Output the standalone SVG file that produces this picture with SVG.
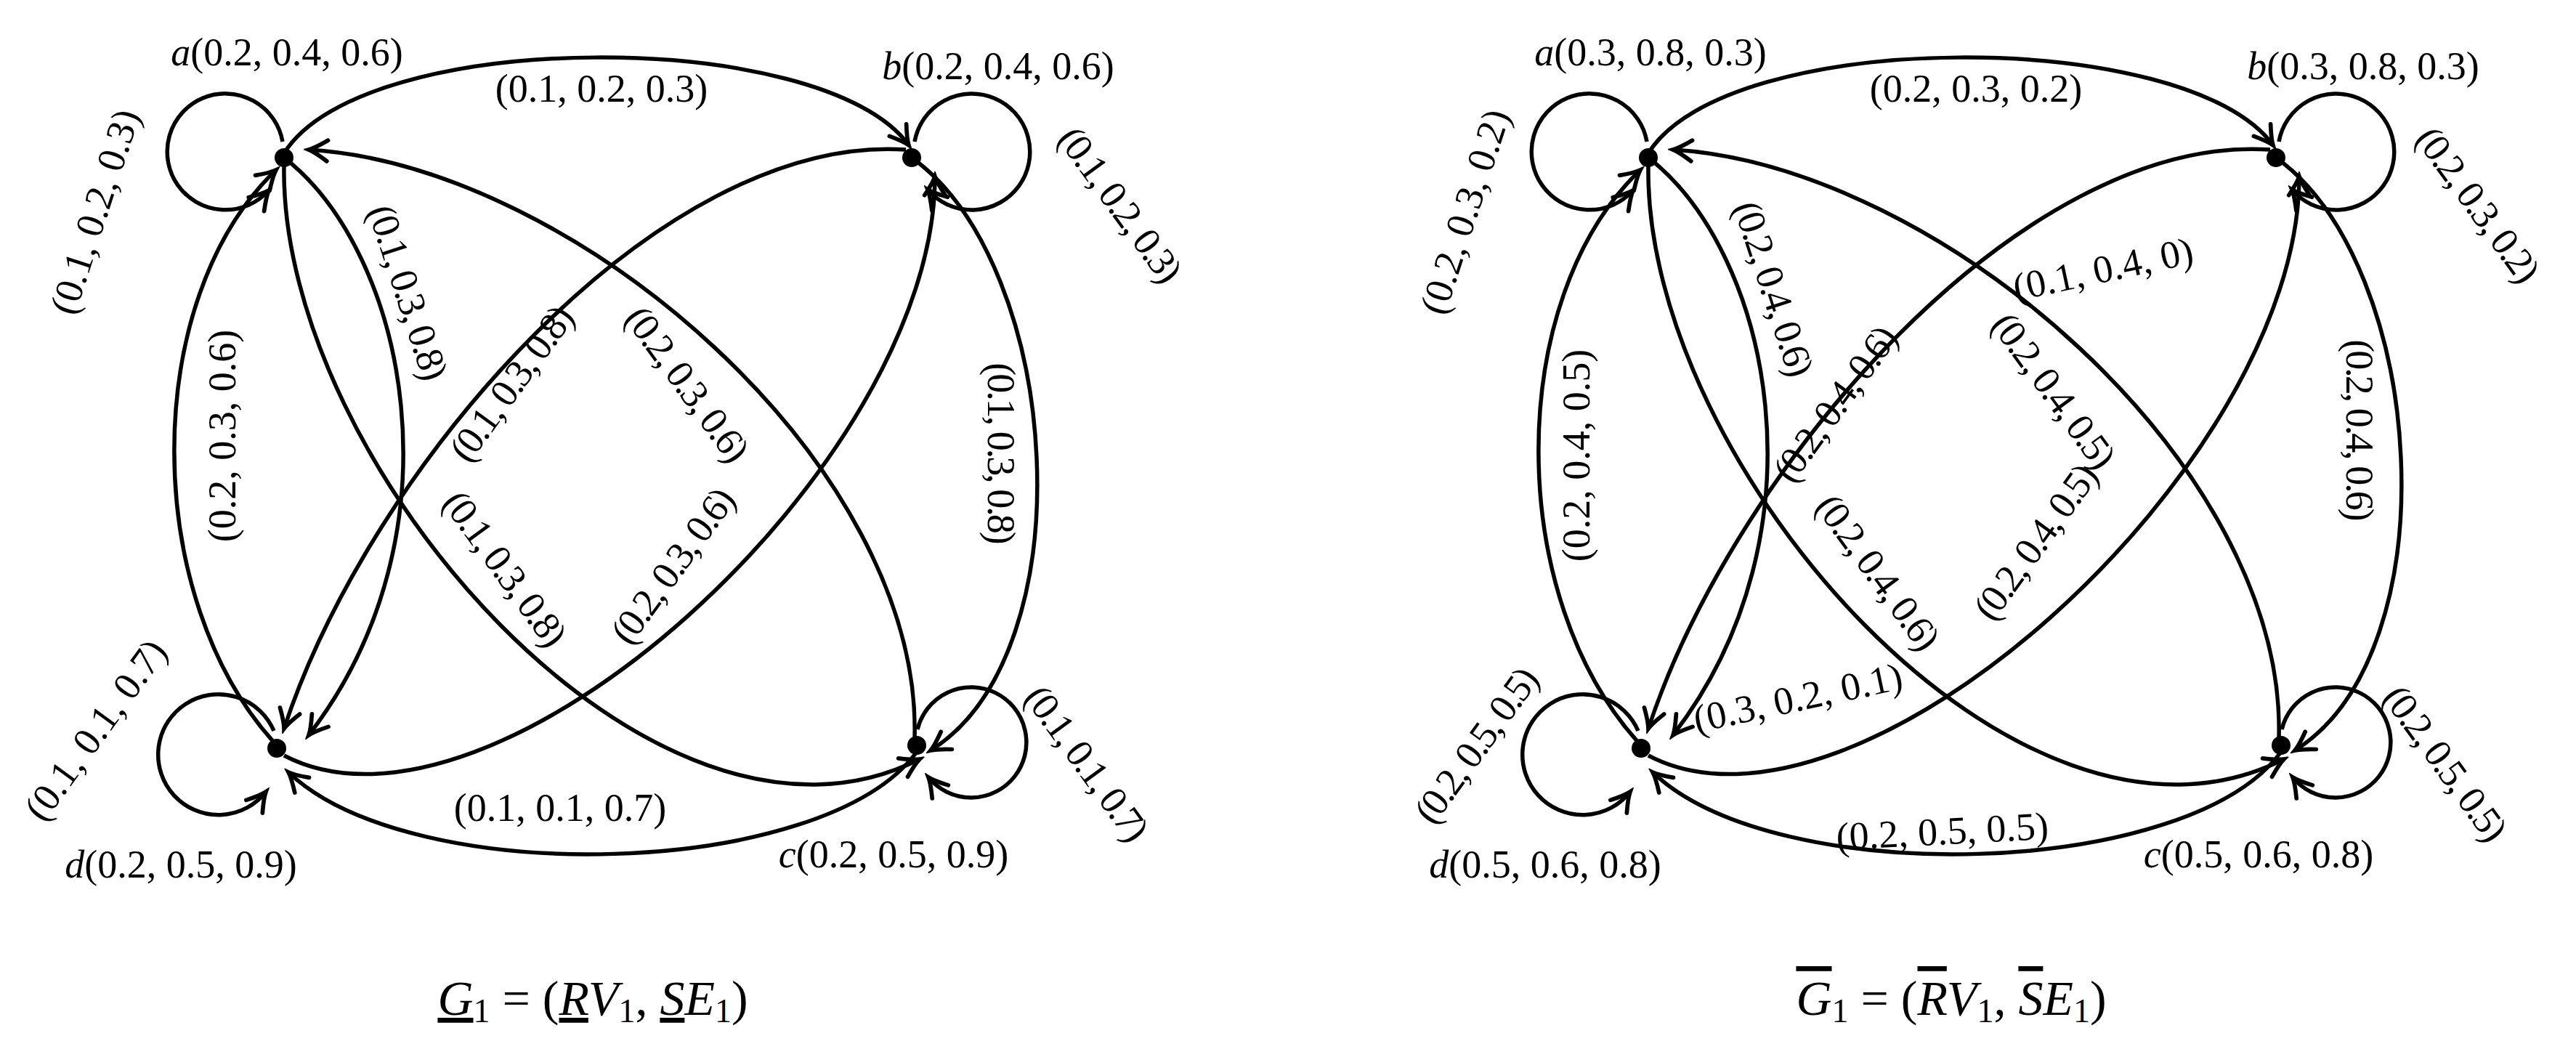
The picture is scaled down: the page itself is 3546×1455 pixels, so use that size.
<svg xmlns="http://www.w3.org/2000/svg" width="3546" height="1455" viewBox="0 0 3546 1455">
<style>
.e{fill:none;stroke:#000;stroke-width:5.5;marker-end:url(#ah)}
.l{font-family:"Liberation Serif",serif;font-size:54px;text-anchor:middle;dominant-baseline:middle}
.c{letter-spacing:-3px}
.n{font-family:"Liberation Serif",serif;font-size:54px;text-anchor:middle}
.t{font-family:"Liberation Serif",serif;font-size:68px;text-anchor:middle}
.it{font-style:italic}
</style>
<defs>
<marker id="ah" markerUnits="userSpaceOnUse" markerWidth="40" markerHeight="40" viewBox="-22 -14 26 28" refX="0" refY="0" orient="auto">
<path d="M-18,-10 Q-6,-2 0,0 Q-6,2 -18,10" fill="none" stroke="#000" stroke-width="4" stroke-linecap="round"/>
</marker>
<g id="graph">
<path class="e" d="M391,211 C499,37 1134,37 1251,200"/>
<path class="e" d="M1255,217 C1463,366 1497,898 1281,1033"/>
<path class="e" d="M1262,1035 C1134,1210 567,1225 397,1063"/>
<path class="e" d="M381,1026 C193,824 193,412 380,234"/>
<path class="e" d="M391,217 C560,348 640,733 425,1012"/>
<path class="e" d="M391,229 C385,640 900,1230 1266,1045"/>
<path class="e" d="M1259,1017 C1270,641 794,229 425,206"/>
<path class="e" d="M1247,206 C907,183 510,641 391,1003"/>
<path class="e" d="M391,1040 C680,1191 1287,641 1287,243"/>
<path class="e" d="M389,195 A80,80 0 1,0 370,262"/>
<path class="e" d="M1259,195 A80,80 0 1,1 1277,261"/>
<path class="e" d="M377,1006 A83,83 0 1,0 366,1090"/>
<path class="e" d="M1263,1004 A76,76 0 1,1 1278,1070"/>
</g>
</defs>
<g id="connectors">
<use href="#graph"/>
<use href="#graph" transform="translate(1878,0)"/>
</g>
<g id="nodes-left">
<g id="a1"><circle cx="391" cy="217" r="13"/><text class="n" x="395" y="90"><tspan class="it">a</tspan>(0.2, 0.4, 0.6)</text></g>
<g id="b1"><circle cx="1255" cy="217" r="13"/><text class="n" x="1374" y="109"><tspan class="it">b</tspan>(0.2, 0.4, 0.6)</text></g>
<g id="c1"><circle cx="1262" cy="1026" r="13"/><text class="n" x="1230" y="1194"><tspan class="it">c</tspan>(0.2, 0.5, 0.9)</text></g>
<g id="d1"><circle cx="381" cy="1030" r="13"/><text class="n" x="249" y="1208"><tspan class="it">d</tspan>(0.2, 0.5, 0.9)</text></g>
</g>
<g id="labels-left">
<text class="l" x="828" y="128">(0.1, 0.2, 0.3)</text>
<text class="l" transform="translate(136,293) rotate(-72)">(0.1, 0.2, 0.3)</text>
<text class="l c" transform="translate(1537,284) rotate(54)">(0.1, 0.2, 0.3)</text>
<text class="l c" transform="translate(556,403) rotate(72)">(0.1, 0.3, 0.8)</text>
<text class="l" transform="translate(312,600) rotate(-90)">(0.2, 0.3, 0.6)</text>
<text class="l c" transform="translate(1372,623) rotate(90)">(0.1, 0.3, 0.8)</text>
<text class="l c" transform="translate(708,532) rotate(-54)">(0.1, 0.3, 0.8)</text>
<text class="l c" transform="translate(941,531) rotate(54)">(0.2, 0.3, 0.6)</text>
<text class="l c" transform="translate(690,785) rotate(54)">(0.1, 0.3, 0.8)</text>
<text class="l c" transform="translate(930,783) rotate(-54)">(0.2, 0.3, 0.6)</text>
<text class="l" transform="translate(136,1008) rotate(-54)">(0.1, 0.1, 0.7)</text>
<text class="l c" transform="translate(1491,1053) rotate(54)">(0.1, 0.1, 0.7)</text>
<text class="l" x="771" y="1118">(0.1, 0.1, 0.7)</text>
<text class="t" x="816" y="1397"><tspan class="it" text-decoration="underline">G</tspan><tspan font-size="46" dy="10">1</tspan><tspan dy="-10"> = (</tspan><tspan class="it" text-decoration="underline">R</tspan><tspan class="it">V</tspan><tspan font-size="46" dy="10">1</tspan><tspan dy="-10">, </tspan><tspan class="it" text-decoration="underline">S</tspan><tspan class="it">E</tspan><tspan font-size="46" dy="10">1</tspan><tspan dy="-10">)</tspan></text>
</g>
<g id="nodes-right">
<g id="a2"><circle cx="2269" cy="217" r="13"/><text class="n" x="2272" y="90"><tspan class="it">a</tspan>(0.3, 0.8, 0.3)</text></g>
<g id="b2"><circle cx="3133" cy="217" r="13"/><text class="n" x="3253" y="109"><tspan class="it">b</tspan>(0.3, 0.8, 0.3)</text></g>
<g id="c2"><circle cx="3140" cy="1026" r="13"/><text class="n" x="3109" y="1194"><tspan class="it">c</tspan>(0.5, 0.6, 0.8)</text></g>
<g id="d2"><circle cx="2259" cy="1030" r="13"/><text class="n" x="2127" y="1208"><tspan class="it">d</tspan>(0.5, 0.6, 0.8)</text></g>
</g>
<g id="labels-right">
<text class="l" x="2720" y="128">(0.2, 0.3, 0.2)</text>
<text class="l" transform="translate(2022,293) rotate(-72)">(0.2, 0.3, 0.2)</text>
<text class="l c" transform="translate(3406,284) rotate(54)">(0.2, 0.3, 0.2)</text>
<text class="l c" transform="translate(2436,398) rotate(72)">(0.2, 0.4, 0.6)</text>
<text class="l" transform="translate(2176,627) rotate(-90)">(0.2, 0.4, 0.5)</text>
<text class="l c" transform="translate(3242,591) rotate(90)">(0.2, 0.4, 0.6)</text>
<text class="l c" transform="translate(2530,560) rotate(-54)">(0.2, 0.4, 0.6)</text>
<text class="l c" transform="translate(2822,540) rotate(54)">(0.2, 0.4, 0.5)</text>
<text class="l" transform="translate(2896,376) rotate(-12)">(0.1, 0.4, 0)</text>
<text class="l c" transform="translate(2580,790) rotate(54)">(0.2, 0.4, 0.6)</text>
<text class="l c" transform="translate(2806,750) rotate(-54)">(0.2, 0.4, 0.5)</text>
<text class="l" transform="translate(2476,966) rotate(-12)">(0.3, 0.2, 0.1)</text>
<text class="l c" transform="translate(2036,1030) rotate(-54)">(0.2, 0.5, 0.5)</text>
<text class="l c" transform="translate(3361,1053) rotate(54)">(0.2, 0.5, 0.5)</text>
<text class="l" transform="translate(2674,1150) rotate(-3)">(0.2, 0.5, 0.5)</text>
<text class="t" x="2686" y="1397"><tspan class="it" text-decoration="overline">G</tspan><tspan font-size="46" dy="10">1</tspan><tspan dy="-10"> = (</tspan><tspan class="it" text-decoration="overline">R</tspan><tspan class="it">V</tspan><tspan font-size="46" dy="10">1</tspan><tspan dy="-10">, </tspan><tspan class="it" text-decoration="overline">S</tspan><tspan class="it">E</tspan><tspan font-size="46" dy="10">1</tspan><tspan dy="-10">)</tspan></text>
</g>
</svg>
